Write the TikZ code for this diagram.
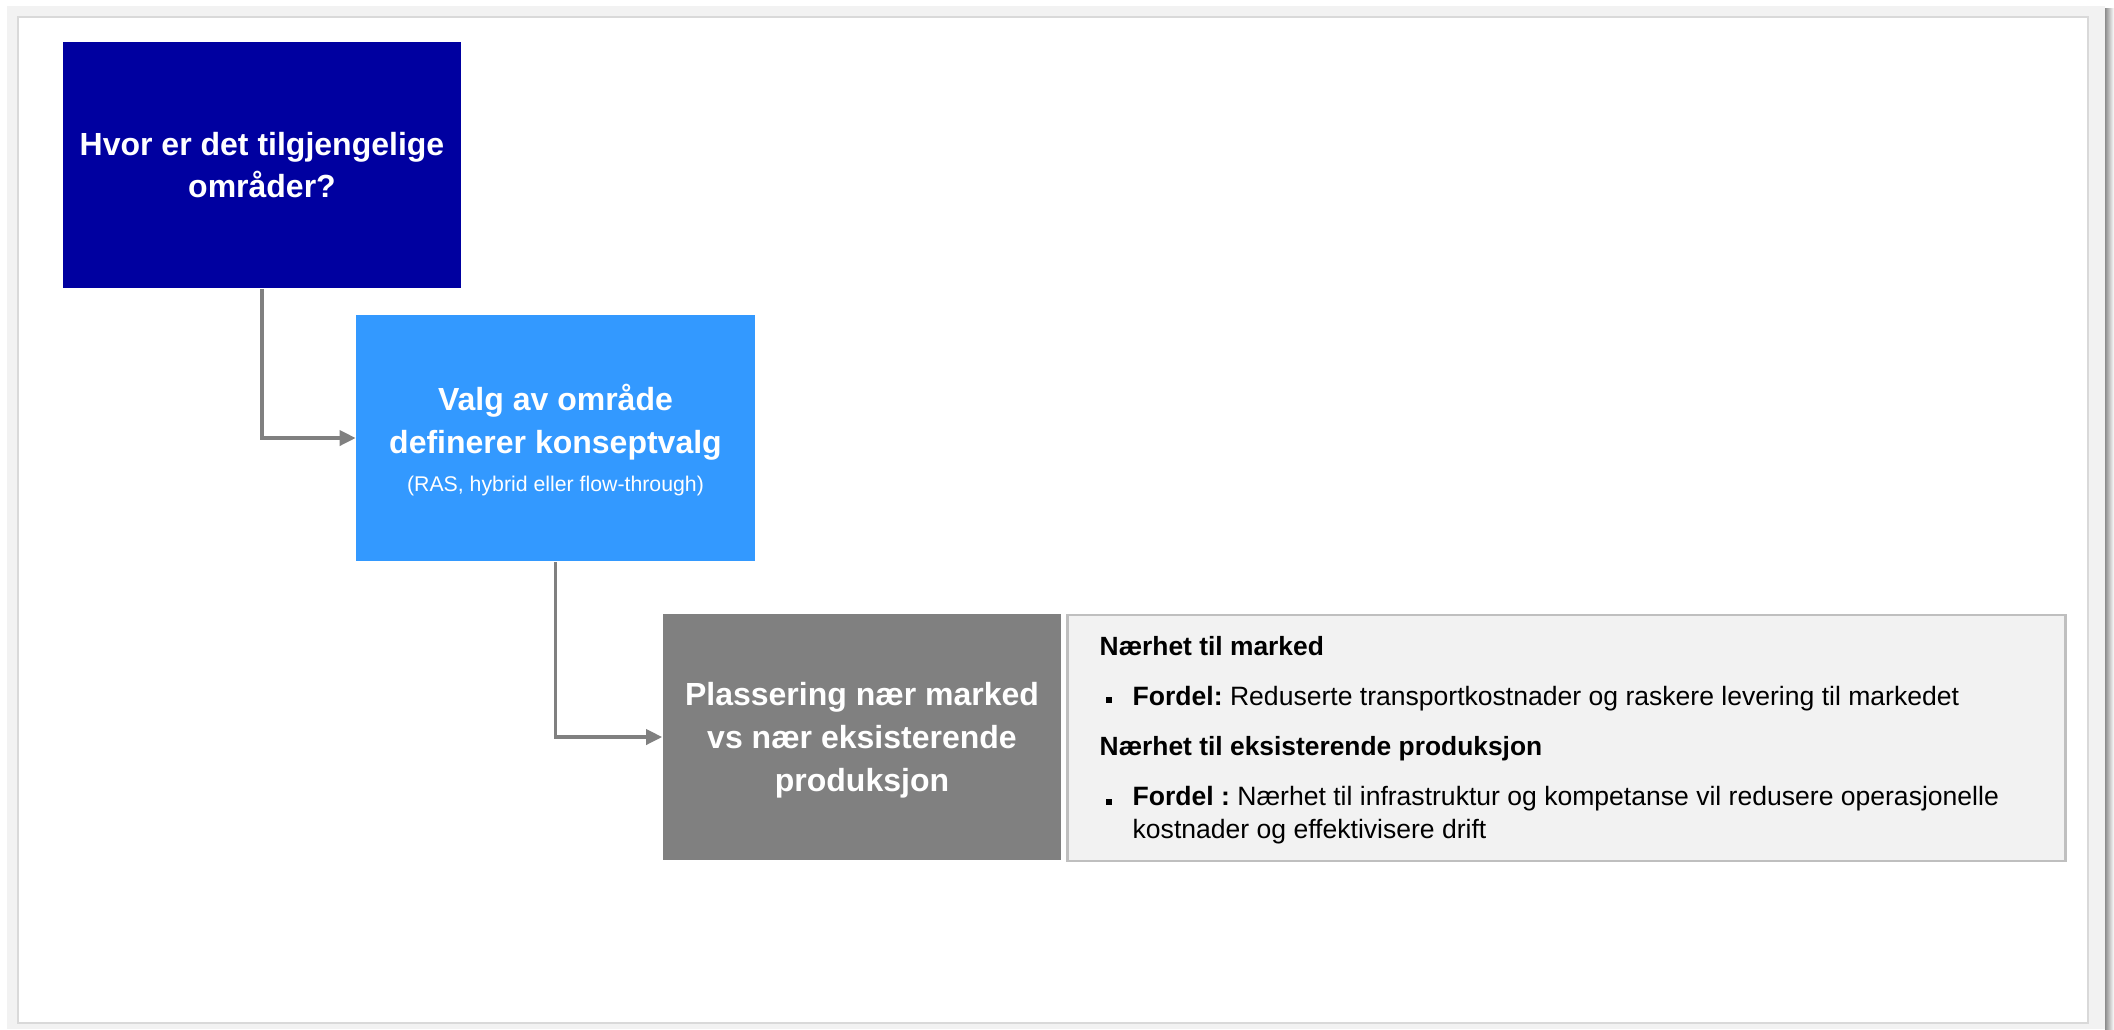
\documentclass[tikz,border=0pt]{standalone}
\usepackage{fontspec}
\setmainfont{Liberation Sans}
\usetikzlibrary{positioning,arrows.meta}
\definecolor{darkblue}{HTML}{0000A0}
\definecolor{lightblue}{HTML}{3399FF}
\definecolor{boxgray}{HTML}{808080}
\definecolor{panelgray}{HTML}{F2F2F2}
\definecolor{panelline}{HTML}{BFBFBF}
\definecolor{frameline}{HTML}{D9D9D9}

\tikzset{
  stage/.style={rectangle, minimum width=3.98cm, minimum height=2.46cm, align=center, text=white, inner sep=0pt,
    font=\fontsize{9.1}{12.2}\selectfont\bfseries},
  conn/.style={draw=boxgray, line width=1pt, -{Triangle[length=0.16cm, width=0.15cm]}},
  heading/.style={anchor=base west, inner sep=0pt, font=\fontsize{7.5}{9.5}\selectfont\bfseries},
  bodytxt/.style={anchor=base west, align=left, inner sep=0pt, font=\fontsize{7.55}{9.2}\selectfont\frenchspacing},
  bulletmark/.style={fill=black, minimum size=0.06cm, inner sep=0pt}
}

\begin{document}
\begin{tikzpicture}[x=0.01cm, y=-0.01cm]
  \useasboundingbox (0,0) rectangle (2114,1029);
  % frame round the slide
  \shade[left color=black!45, right color=white] (2105,8) rectangle (2114,1029);
  \fill[panelgray] (7,6) rectangle (2105,1029);
  \filldraw[fill=white, draw=frameline, line width=0.6pt] (18,17) rectangle (2088,1023);

  % the three steps
  \node[stage, fill=darkblue] (qbox) at (262,165) {Hvor er det tilgjengelige\\områder?};
  \node[stage, fill=lightblue, text depth=0pt] (vbox) at (555.5,438) {Valg av område\\definerer konseptvalg\\[-1.3pt]{\fontsize{6.05}{8}\selectfont\mdseries (RAS, hybrid eller flow-through)}};
  \node[stage, fill=boxgray, text depth=0pt] (pbox) at (862,737) {Plassering nær marked\\vs nær eksisterende\\produksjon};
  \node[draw=panelline, fill=panelgray, line width=0.7pt, minimum width=9.97cm, minimum height=2.46cm, inner sep=0pt] (panel) at (1566.5,738) {};

  \draw[conn] (qbox.south) |- (vbox.west);
  \draw[conn] (vbox.south) |- (pbox.west);

  % text in the panel
  \node[heading] (h1) at (1099,655) {Nærhet til marked};
  \node[bulletmark] (m1) at (1109,700) {};
  \node[bodytxt] (t1) at (1132,705) {\textbf{Fordel:} Reduserte transportkostnader og raskere levering til markedet};
  \node[heading] (h2) at (1099,755) {Nærhet til eksisterende produksjon};
  \node[bulletmark] (m2) at (1109,802) {};
  \node[bodytxt] (t2) at (1132,838) {\textbf{Fordel :} Nærhet til infrastruktur og kompetanse vil redusere operasjonelle\\kostnader og effektivisere drift};
\end{tikzpicture}
\end{document}
